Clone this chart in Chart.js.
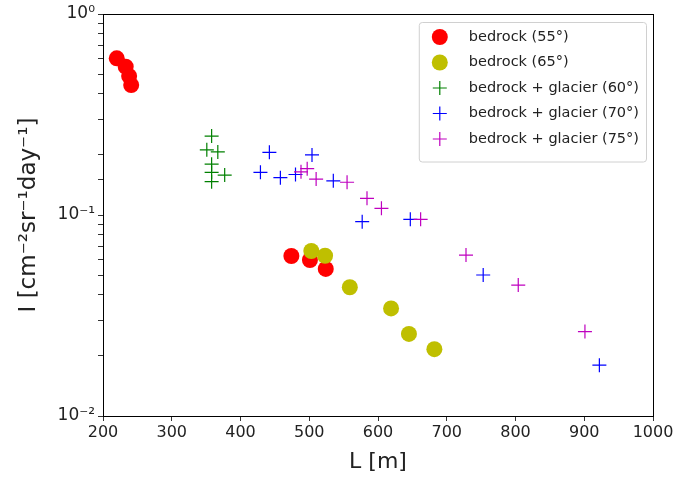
<!DOCTYPE html>
<html>
<head>
<meta charset="utf-8">
<script src="https://cdn.jsdelivr.net/npm/chart.js@4/dist/chart.umd.min.js"></script>
<style>
  html, body { margin: 0; padding: 0; background: #fff; }
  #wrap { width: 678px; height: 481px; }
</style>
</head>
<body>
<div id="wrap"><canvas id="chart"></canvas></div>
<script>
// values (L in m, I in cm^-2 sr^-1 day^-1)
const bedrock55L = [220, 233, 238, 241, 474, 501, 524];
const bedrock55I = [0.602, 0.547, 0.491, 0.443, 0.0625, 0.0597, 0.0539];

const bedrock65L = [503, 523, 559, 619, 645, 682];
const bedrock65I = [0.0662, 0.0627, 0.0437, 0.0343, 0.0256, 0.0215];

const glacier60L = [358, 351, 367, 358, 358, 377, 358];
const glacier60I = [0.247, 0.211, 0.206, 0.179, 0.163, 0.158, 0.1465];

const glacier70L = [429, 442, 458, 480, 504, 535, 577, 647, 753, 922];
const glacier70I = [0.163, 0.205, 0.1534, 0.159, 0.199, 0.148, 0.0926, 0.0952, 0.0503, 0.0179];

const glacier75L = [488, 497, 510, 555, 584, 605, 662, 728, 804, 901];
const glacier75I = [0.164, 0.170, 0.151, 0.1455, 0.121, 0.108, 0.0952, 0.0632, 0.0448, 0.0263];

const seriesLabels = ['bedrock (55°)', 'bedrock (65°)', 'bedrock + glacier (60°)',
                      'bedrock + glacier (70°)', 'bedrock + glacier (75°)'];
const yTickLabels = { '0': '10⁰', '-1': '10⁻¹', '-2': '10⁻²' };

const FONT = "'DejaVu Sans', sans-serif";

function pts(xs, ys) {
  return xs.map((x, i) => ({ x: x, y: ys[i] }));
}

function dot(label, xs, ys, color, order) {
  return { label, data: pts(xs, ys), pointStyle: 'circle', pointRadius: 8,
    backgroundColor: color, borderColor: color, borderWidth: 0, showLine: false, order };
}
function cross(label, xs, ys, color, order) {
  return { label, data: pts(xs, ys), pointStyle: 'cross', pointRadius: 7,
    backgroundColor: color, borderColor: color, borderWidth: 1.2, showLine: false, order };
}

// box round the plot, like matplotlib spines
const framePlugin = {
  id: 'frame',
  afterDraw(chart) {
    const { ctx, chartArea: a } = chart;
    ctx.save();
    ctx.strokeStyle = '#000';
    ctx.lineWidth = 1;
    ctx.strokeRect(Math.round(a.left) + 0.5, Math.round(a.top) + 0.5,
      Math.round(a.right - a.left), Math.round(a.bottom - a.top));
    ctx.restore();
  }
};

// legend inside the axes, upper right
const legendPlugin = {
  id: 'insideLegend',
  afterDraw(chart) {
    const { ctx, chartArea: a } = chart;
    const sets = chart.data.datasets;
    const rowH = 25.5;
    ctx.save();
    ctx.font = '14.5px ' + FONT;
    let tw = 0;
    sets.forEach(d => { tw = Math.max(tw, ctx.measureText(d.label).width); });
    const w = 50 + tw + 7;
    const h = rowH * sets.length + 12;
    const x0 = a.right - 7 - w;
    const y0 = a.top + 8;
    ctx.beginPath();
    ctx.roundRect(x0 + 0.5, y0 + 0.5, w, h, 3);
    ctx.fillStyle = 'rgba(255,255,255,0.8)';
    ctx.fill();
    ctx.strokeStyle = '#d0d0d0';
    ctx.lineWidth = 1;
    ctx.stroke();
    sets.forEach((d, i) => {
      const cy = y0 + 15 + i * rowH;
      const cx = x0 + 21;
      ctx.fillStyle = d.backgroundColor;
      ctx.strokeStyle = d.borderColor;
      if (d.pointStyle === 'circle') {
        ctx.beginPath();
        ctx.arc(cx, cy, 8, 0, Math.PI * 2);
        ctx.fill();
      } else {
        ctx.lineWidth = 1.2;
        ctx.beginPath();
        ctx.moveTo(cx - 7, cy); ctx.lineTo(cx + 7, cy);
        ctx.moveTo(cx, cy - 7); ctx.lineTo(cx, cy + 7);
        ctx.stroke();
      }
      ctx.fillStyle = '#222';
      ctx.textBaseline = 'middle';
      ctx.fillText(d.label, x0 + 50, cy);
    });
    ctx.restore();
  }
};

const tickGrid = { display: true, drawOnChartArea: false, drawTicks: true,
  tickLength: 5, color: '#000', tickColor: '#333' };

new Chart(document.getElementById('chart'), {
  type: 'scatter',
  data: {
    datasets: [
      dot(seriesLabels[0], bedrock55L, bedrock55I, '#ff0000', 5),
      dot(seriesLabels[1], bedrock65L, bedrock65I, '#bfbf00', 4),
      cross(seriesLabels[2], glacier60L, glacier60I, '#008000', 3),
      cross(seriesLabels[3], glacier70L, glacier70I, '#0000ff', 2),
      cross(seriesLabels[4], glacier75L, glacier75I, '#bf00bf', 1)
    ]
  },
  options: {
    responsive: true,
    maintainAspectRatio: false,
    animation: false,
    layout: { padding: { top: 14, right: 25, left: 0, bottom: 0 } },
    plugins: { legend: { display: false }, tooltip: { enabled: false } },
    scales: {
      x: {
        type: 'linear', min: 200, max: 1000,
        grid: tickGrid,
        border: { display: true, color: '#000' },
        ticks: { stepSize: 100, padding: 2, color: '#222', font: { family: FONT, size: 16 },
          callback(v) { return String(v); } },
        title: { display: true, text: 'L [m]', color: '#222',
          font: { family: FONT, size: 22 }, padding: { top: 0, bottom: 6 } },
        afterFit(s) { s.height = 65; }
      },
      y: {
        type: 'logarithmic', min: 0.01, max: 1,
        grid: tickGrid,
        border: { display: true, color: '#000' },
        ticks: {
          autoSkip: false, padding: 3, color: '#222', font: { family: FONT, size: 17 },
          callback(v) {
            const e = Math.log10(v);
            return Math.abs(e - Math.round(e)) < 1e-9 ? yTickLabels[String(Math.round(e))] : '';
          }
        },
        title: { display: true, text: 'I [cm⁻²sr⁻¹day⁻¹]', color: '#222',
          font: { family: FONT, size: 23 }, padding: { top: 15, bottom: 0 } },
        afterFit(s) { s.width = 103; }
      }
    }
  },
  plugins: [framePlugin, legendPlugin]
});
</script>
</body>
</html>
